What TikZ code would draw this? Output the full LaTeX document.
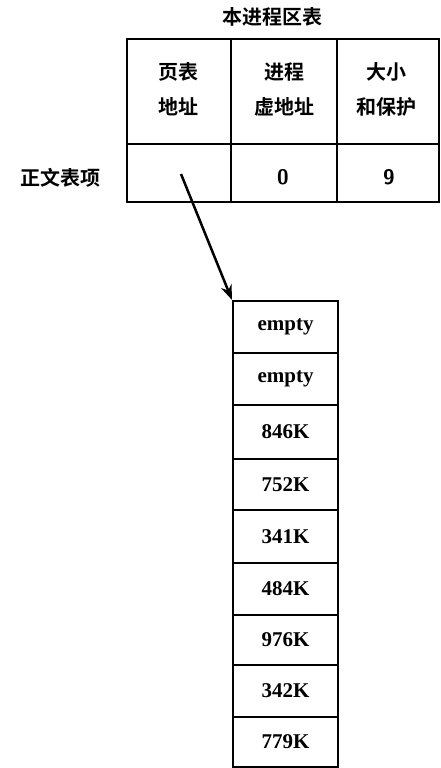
\documentclass[tikz,border=0pt]{standalone}
\usepackage{fontspec}
\setmainfont{Liberation Serif}
\newfontfamily\cjk{Noto Sans CJK SC}[BoldFont={* Bold}]
\usetikzlibrary{arrows.meta}
\begin{document}
\begin{tikzpicture}[x=1pt,y=-1pt,
  frame/.style={line width=2.2pt},
  cjklabel/.style={font=\cjk\bfseries\fontsize{20}{35}\selectfont,align=center},
  val/.style={font=\bfseries\fontsize{21}{24}\selectfont},
  num/.style={font=\sffamily\bfseries\fontsize{21}{24}\selectfont},
  cellbox/.style={draw,line width=2.2pt,minimum width=105pt,inner sep=0pt,anchor=north west}]
\useasboundingbox (0,0) rectangle (441,768);
% top table
\draw[frame] (127,39) rectangle (439,202);
\draw[frame] (127,144) -- (439,144);
\draw[frame] (231,39) -- (231,202);
\draw[frame] (337,39) -- (337,202);
\node[cjklabel] (title) at (272,17) {本进程区表};
\node[cjklabel] (h1) at (178,89) {页表\\地址};
\node[cjklabel] (h2) at (284,89) {进程\\虚地址};
\node[cjklabel] (h3) at (386,89) {大小\\和保护};
\node[cjklabel] (row) at (60,178) {正文表项};
\node[num] (v0) at (283,177) {0};
\node[num] (v9) at (389,177) {9};
\coordinate (src) at (181,174);
% list
\node[cellbox,minimum height=52pt] (b1) at (232,300) {};
\node[val] at (b1.center) {empty};
\node[cellbox,minimum height=52pt] (b2) at (232,352) {};
\node[val] at (b2.center) {empty};
\node[cellbox,minimum height=54pt] (b3) at (232,404) {};
\node[val] at (b3.center) {846K};
\node[cellbox,minimum height=51pt] (b4) at (232,458) {};
\node[val] at (b4.center) {752K};
\node[cellbox,minimum height=53pt] (b5) at (232,509) {};
\node[val] at (b5.center) {341K};
\node[cellbox,minimum height=52pt] (b6) at (232,562) {};
\node[val] at (b6.center) {484K};
\node[cellbox,minimum height=50pt] (b7) at (232,614) {};
\node[val] at (b7.center) {976K};
\node[cellbox,minimum height=52pt] (b8) at (232,664) {};
\node[val] at (b8.center) {342K};
\node[cellbox,minimum height=50pt] (b9) at (232,716) {};
\node[val] at (b9.center) {779K};
\draw[line width=2.5pt,-{Stealth[length=15pt,width=11pt]}] (src) -- (b1.north west);
\end{tikzpicture}
\end{document}
